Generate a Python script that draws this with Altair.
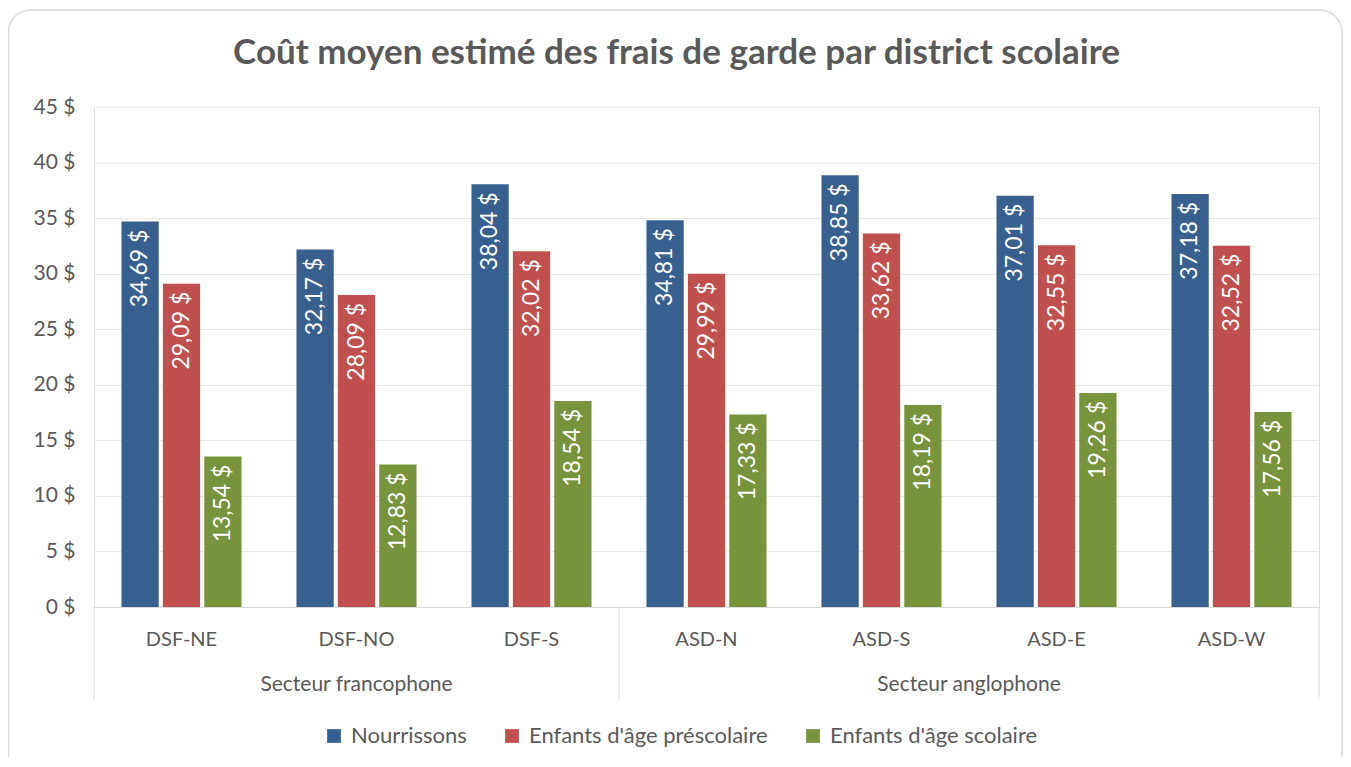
import altair as alt
import pandas as pd

districts = ["DSF-NE", "DSF-NO", "DSF-S", "ASD-N", "ASD-S", "ASD-E", "ASD-W"]
sectors = ["Secteur francophone", "Secteur anglophone"]
series = ["Nourrissons", "Enfants d'âge préscolaire", "Enfants d'âge scolaire"]
colors = ["#37608F", "#C0504D", "#77933C"]
nourrissons = [34.69, 32.17, 38.04, 34.81, 38.85, 37.01, 37.18]
prescolaire = [29.09, 28.09, 32.02, 29.99, 33.62, 32.55, 32.52]
scolaire = [13.54, 12.83, 18.54, 17.33, 18.19, 19.26, 17.56]
title_text = "Coût moyen estimé des frais de garde par district scolaire"

rows = []
for s, vals in zip(series, [nourrissons, prescolaire, scolaire]):
    for d, v in zip(districts, vals):
        rows.append({"district": d, "series": s, "value": v,
                     "label": f"{v:.2f}".replace(".", ",") + " $"})
df = pd.DataFrame(rows)

W, H = 1225, 500
FONT = "Lato"
GRAY = "#595959"
LINE = "#D9D9D9"
step = W / len(districts)

xenc = alt.X("district:N", sort=districts,
             scale=alt.Scale(paddingInner=0.314, paddingOuter=0.157),
             axis=alt.Axis(title=None, ticks=False, domainColor=LINE, domainWidth=1,
                           labelFont=FONT, labelFontSize=20, labelColor=GRAY,
                           labelPadding=22, labelAngle=0))
yenc = alt.Y("value:Q", scale=alt.Scale(domain=[0, 45], nice=False),
             axis=alt.Axis(title=None, values=list(range(0, 50, 5)),
                           labelExpr="datum.value + ' $'", domain=False, ticks=False,
                           labelFont=FONT, labelFontSize=21, labelColor=GRAY,
                           labelPadding=19, gridColor="#E8E8E8", gridWidth=1))
off = alt.XOffset("series:N", sort=series, scale=alt.Scale(paddingInner=0.1))
color = alt.Color("series:N", sort=series,
                  scale=alt.Scale(domain=series, range=colors),
                  legend=alt.Legend(title=None, orient="none", direction="horizontal",
                                    legendX=229, legendY=618, symbolType="square",
                                    symbolSize=190, symbolStrokeWidth=0,
                                    labelFont=FONT, labelFontSize=22, labelColor=GRAY,
                                    labelLimit=400, columnPadding=34, labelOffset=6))

bars = alt.Chart(df).mark_bar().encode(x=xenc, y=yenc, xOffset=off, color=color)

labels = alt.Chart(df).mark_text(angle=270, align="right", baseline="middle",
                                 yOffset=8, color="white", font=FONT, fontSize=23).encode(
    x=alt.X("district:N", sort=districts), y="value:Q", xOffset=off, text="label:N")

sec_df = pd.DataFrame({"sector": sectors, "pos": [step * 1.5, step * 5]})
sec = alt.Chart(sec_df).mark_text(font=FONT, fontSize=21, color=GRAY, baseline="middle").encode(
    x=alt.X("pos:Q", scale=None), y=alt.value(H + 78), text="sector:N")

sep_df = pd.DataFrame({"pos": [0, step * 3, W]})
seps = alt.Chart(sep_df).mark_rule(color=LINE, strokeWidth=1).encode(
    x=alt.X("pos:Q", scale=None), y=alt.value(H), y2=alt.value(H + 92))

one = pd.DataFrame({"t": [title_text]})
title = alt.Chart(one).mark_text(font=FONT, fontSize=35, fontWeight="bold", color=GRAY,
                                 baseline="alphabetic", align="center").encode(
    x=alt.value(582.5), y=alt.value(-43), text="t:N")

border = alt.Chart(one).mark_rect(fill="white", fillOpacity=0, stroke=LINE, strokeWidth=1.5,
                                  cornerRadius=22).encode(
    x=alt.value(-85.5), x2=alt.value(1248), y=alt.value(-97), y2=alt.value(700))

chart = alt.layer(border, title, bars, labels, seps, sec).properties(
    width=W, height=H,
    autosize=alt.AutoSizeParams(type="none"),
    padding={"left": 86, "top": 99, "right": 24, "bottom": 150},
).configure_view(stroke=None).configure(background="white")

chart.save("out.html", embed_options={"renderer": "svg", "actions": False})
